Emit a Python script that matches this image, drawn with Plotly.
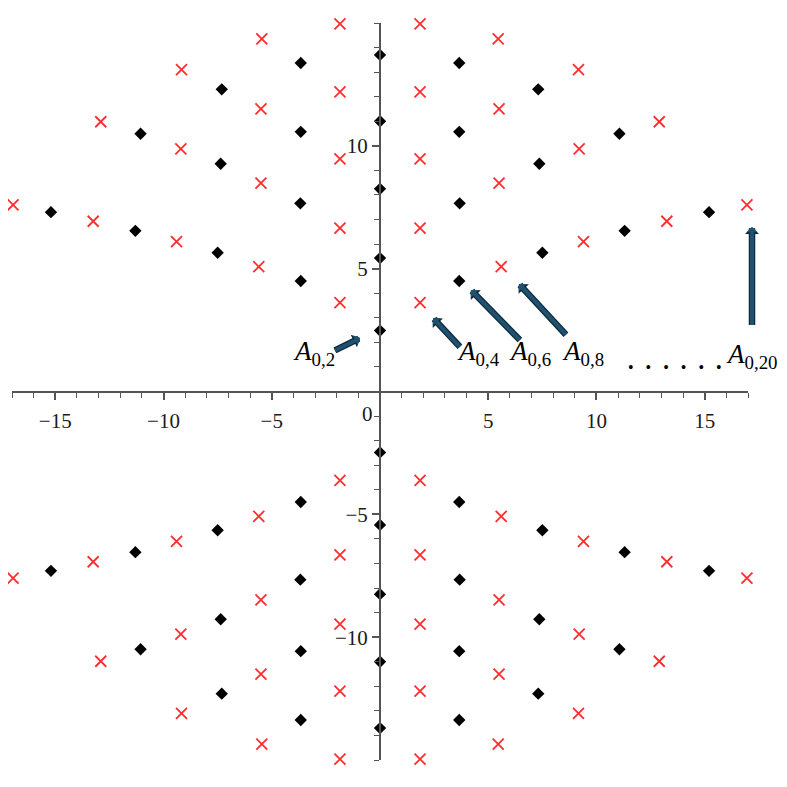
import plotly.graph_objects as go

# ---- data (first quadrant; the pattern is mirrored in both axes) ----
black_axis_y = [2.48, 5.43, 8.25, 11.0, 13.7]          # black diamonds on the imaginary axis
black_x = [3.66, 3.68, 3.66, 3.66, 7.50, 7.36, 7.31, 11.30, 11.06, 15.20]
black_y = [4.50, 7.66, 10.57, 13.37, 5.65, 9.27, 12.30, 6.54, 10.49, 7.30]
red_x = [1.85, 1.85, 1.85, 1.85, 1.85, 5.60, 5.50, 5.50, 5.46, 9.40, 9.20, 9.17, 13.25, 12.90, 16.95]
red_y = [3.62, 6.65, 9.47, 12.20, 14.96, 5.08, 8.48, 11.50, 14.35, 6.10, 9.88, 13.10, 6.93, 10.98, 7.60]

x_ticks = [-15, -10, -5, 5, 10, 15]
y_ticks = [-10, -5, 5, 10]

# mirror into the four quadrants
bx, by = [], []
for yv in black_axis_y:
    bx += [0, 0]
    by += [yv, -yv]
for xv, yv in zip(black_x, black_y):
    for sx in (1, -1):
        for sy in (1, -1):
            bx.append(sx * xv)
            by.append(sy * yv)
rx, ry = [], []
for xv, yv in zip(red_x, red_y):
    for sx in (1, -1):
        for sy in (1, -1):
            rx.append(sx * xv)
            ry.append(sy * yv)

fig = go.Figure()
fig.add_trace(go.Scatter(x=rx, y=ry, mode="markers", cliponaxis=False,
                         marker=dict(symbol="x-thin", size=11, color="rgb(255,45,45)",
                                     line=dict(width=1.8, color="rgb(255,45,45)")),
                         showlegend=False))
fig.add_trace(go.Scatter(x=bx, y=by, mode="markers", cliponaxis=False,
                         marker=dict(symbol="diamond", size=9.5, color="black"),
                         showlegend=False))

serif = "Liberation Serif, Times New Roman, serif"
axis_common = dict(
    showgrid=False, zeroline=False, showline=True, linecolor="#555555", linewidth=2,
    ticks="outside", ticklen=7, tickwidth=1.5, tickcolor="#555555",
    tickfont=dict(family=serif, size=21, color="#1a1a1a"),
    anchor="free", position=0.5, automargin=False,
    minor=dict(tickmode="linear", tick0=0, dtick=1, ticks="outside", ticklen=5,
               tickwidth=1.2, tickcolor="#555555"),
)
fig.update_xaxes(range=[-17, 17], tickmode="array", tickvals=x_ticks,
                 ticktext=[f"\u2212{abs(v)}" if v < 0 else str(v) for v in x_ticks],
                 ticklabelstandoff=3, **axis_common)
fig.update_yaxes(range=[-15, 15], tickmode="array", tickvals=y_ticks,
                 ticktext=[f"\u2212{abs(v)}" if v < 0 else str(v) for v in y_ticks],
                 **axis_common)

arrow_fill = "#1f5170"
arrow_edge = "#0e2a3b"
annots = []
# the single "0" label near the origin
annots.append(dict(x=-0.6, y=-0.92, xref="x", yref="y", text="0", showarrow=False,
                   font=dict(family=serif, size=21, color="#1a1a1a")))


def arrow_pair(base):
    """Outlined arrow: dark wider arrow underneath, teal arrow on top."""
    out = []
    for col, w, s in ((arrow_edge, 6.5, 0.36), (arrow_fill, 4.0, 0.45)):
        d = dict(base)
        d.update(text=" ", showarrow=True, arrowhead=1, arrowsize=s, arrowwidth=w,
                 arrowcolor=col, standoff=0, startstandoff=0)
        out.append(d)
    return out


# arrows (head -> tail in data coords)
arrows = [
    (-0.92, 2.18, -2.22, 1.61),
    (2.45, 2.99, 3.83, 1.69),
    (4.20, 4.13, 6.60, 1.97),
    (6.42, 4.38, 8.73, 2.18),
]
for hx, hy, tx, ty in arrows:
    annots += arrow_pair(dict(x=hx, y=hy, ax=tx, ay=ty, xref="x", yref="y",
                              axref="x", ayref="y"))
# vertical arrow for A_{0,20}
annots += arrow_pair(dict(x=(752 - 12) / 736, y=6.7, xref="paper", yref="y", ax=0, ay=108))

labels = [(-3.05, "2"), (4.53, "4"), (6.93, "6"), (9.38, "8")]
for lx, k in labels:
    annots.append(dict(x=lx, y=1.55, xref="x", yref="y", showarrow=False,
                       text=f"<i>A</i><sub>0,{k}</sub>",
                       font=dict(family=serif, size=27, color="black")))
annots.append(dict(x=(724 - 12) / 736, y=1.45, xref="paper", yref="y", xanchor="left",
                   showarrow=False, text="<i>A</i><sub>0,20</sub>",
                   font=dict(family=serif, size=27, color="black")))
annots.append(dict(x=13.63, y=0.96, xref="x", yref="y", showarrow=False,
                   text="\u00a0\u00a0\u00a0".join(["\u2022"] * 6),
                   font=dict(family=serif, size=16, color="black")))

# the page body has an 8px margin, so the figure is sized to fit the 787px window
fig.update_layout(
    width=779, height=779,
    margin=dict(l=4, r=39, t=15, b=27),
    paper_bgcolor="white", plot_bgcolor="white",
    annotations=annots,
    showlegend=False,
)

fig.write_html("out.html")
